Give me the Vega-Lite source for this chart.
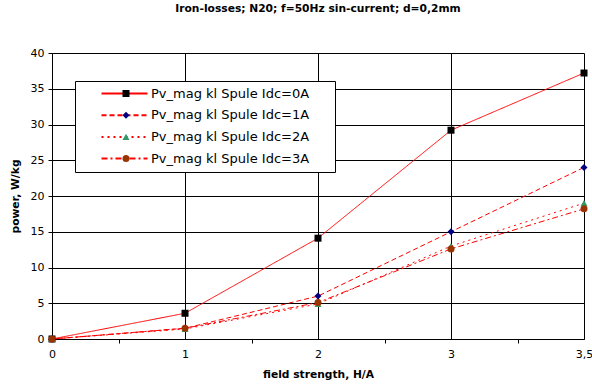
{
  "$schema": "https://vega.github.io/schema/vega-lite/v6.json",
  "width": 532,
  "height": 286,
  "autosize": {"type": "none"},
  "padding": {"left": 52, "top": 53, "right": 8, "bottom": 46},
  "background": "white",
  "title": {
    "text": "Iron-losses; N20; f=50Hz sin-current; d=0,2mm",
    "anchor": "middle",
    "frame": "group",
    "font": "DejaVu Sans",
    "fontSize": 10.7,
    "fontWeight": "bold",
    "color": "black",
    "offset": 32
  },
  "data": {
    "values": [
      {"x": "0", "y": 0, "series": "Pv_mag kl Spule Idc=0A", "marker": "Pv_mag kl Spule Idc=0A"},
      {"x": "1", "y": 3.6, "series": "Pv_mag kl Spule Idc=0A", "marker": "Pv_mag kl Spule Idc=0A"},
      {"x": "2", "y": 14.1, "series": "Pv_mag kl Spule Idc=0A", "marker": "Pv_mag kl Spule Idc=0A"},
      {"x": "3", "y": 29.2, "series": "Pv_mag kl Spule Idc=0A", "marker": "Pv_mag kl Spule Idc=0A"},
      {"x": "3,5", "y": 37.2, "series": "Pv_mag kl Spule Idc=0A", "marker": "Pv_mag kl Spule Idc=0A"},
      {"x": "0", "y": 0, "series": "Pv_mag kl Spule Idc=1A", "marker": "Pv_mag kl Spule Idc=1A"},
      {"x": "1", "y": 1.5, "series": "Pv_mag kl Spule Idc=1A", "marker": "Pv_mag kl Spule Idc=1A"},
      {"x": "2", "y": 6.0, "series": "Pv_mag kl Spule Idc=1A", "marker": "Pv_mag kl Spule Idc=1A"},
      {"x": "3", "y": 15.0, "series": "Pv_mag kl Spule Idc=1A", "marker": "Pv_mag kl Spule Idc=1A"},
      {"x": "3,5", "y": 24.0, "series": "Pv_mag kl Spule Idc=1A", "marker": "Pv_mag kl Spule Idc=1A"},
      {"x": "0", "y": 0, "series": "Pv_mag kl Spule Idc=2A", "marker": "Pv_mag kl Spule Idc=2A"},
      {"x": "1", "y": 1.4, "series": "Pv_mag kl Spule Idc=2A", "marker": "Pv_mag kl Spule Idc=2A"},
      {"x": "2", "y": 4.9, "series": "Pv_mag kl Spule Idc=2A", "marker": "Pv_mag kl Spule Idc=2A"},
      {"x": "3", "y": 13.0, "series": "Pv_mag kl Spule Idc=2A", "marker": "Pv_mag kl Spule Idc=2A"},
      {"x": "3,5", "y": 19.0, "series": "Pv_mag kl Spule Idc=2A", "marker": "Pv_mag kl Spule Idc=2A"},
      {"x": "0", "y": 0, "series": "Pv_mag kl Spule Idc=3A", "marker": "Pv_mag kl Spule Idc=3A"},
      {"x": "1", "y": 1.5, "series": "Pv_mag kl Spule Idc=3A", "marker": "Pv_mag kl Spule Idc=3A"},
      {"x": "2", "y": 5.1, "series": "Pv_mag kl Spule Idc=3A", "marker": "Pv_mag kl Spule Idc=3A"},
      {"x": "3", "y": 12.6, "series": "Pv_mag kl Spule Idc=3A", "marker": "Pv_mag kl Spule Idc=3A"},
      {"x": "3,5", "y": 18.2, "series": "Pv_mag kl Spule Idc=3A", "marker": "Pv_mag kl Spule Idc=3A"}
    ]
  },
  "config": {
    "view": {"stroke": null},
    "font": "DejaVu Sans",
    "axis": {
      "labelFont": "DejaVu Sans",
      "titleFont": "DejaVu Sans",
      "labelColor": "black",
      "titleColor": "black",
      "gridColor": "black",
      "gridOpacity": 1,
      "domainColor": "black",
      "tickColor": "black",
      "labelFontSize": 11,
      "titleFontSize": 10.7,
      "titleFontWeight": "bold"
    }
  },
  "resolve": {"axis": {"x": "independent"}},
  "layer": [
    {
      "mark": {"type": "line", "color": "#ff0000", "strokeWidth": 1},
      "encoding": {
        "x": {
          "field": "x",
          "type": "ordinal",
          "sort": null,
          "scale": {"type": "point", "padding": 0},
          "axis": {
            "orient": "bottom",
            "title": "field strength, H/A",
            "titlePadding": 10,
            "labelAngle": 0,
            "ticks": false,
            "tickSize": 0,
            "labelPadding": 9,
            "grid": true
          }
        },
        "y": {
          "field": "y",
          "type": "quantitative",
          "scale": {"domain": [0, 40], "nice": false},
          "axis": {
            "title": "power, W/kg",
            "values": [0, 5, 10, 15, 20, 25, 30, 35, 40],
            "grid": true,
            "tickSize": 4,
            "labelPadding": 4,
            "titlePadding": 10
          }
        },
        "strokeDash": {
          "field": "series",
          "type": "nominal",
          "scale": {
            "range": [[1, 0], [5, 3], [2, 4], [6, 3, 2, 3]]
          },
          "legend": {
            "title": null,
            "orient": "none",
            "legendX": 23,
            "legendY": 28,
            "padding": 6,
            "symbolOffset": 37,
            "symbolType": "M-4.6,0H4.6",
            "symbolSize": 100,
            "symbolStrokeColor": "#ff0000",
            "symbolStrokeWidth": 2,
            "symbolFillColor": "transparent",
            "labelOffset": 20,
            "labelExpr": "datum.label + '\u2800\u2800'",
            "labelFont": "DejaVu Sans",
            "labelFontSize": 13,
            "labelColor": "black",
            "labelLimit": 400,
            "rowPadding": 7.7,
            "strokeColor": "black",
            "fillColor": "white",
            "zindex": 0
          }
        }
      }
    },
    {
      "mark": {"type": "point", "filled": true, "size": 49, "opacity": 1},
      "encoding": {
        "x": {
          "field": "x",
          "type": "ordinal",
          "sort": null,
          "axis": {
            "orient": "bottom",
            "title": null,
            "labels": false,
            "grid": false,
            "domain": false,
            "ticks": true,
            "tickOffset": 66.5,
            "tickSize": 4
          }
        },
        "y": {
          "field": "y",
          "type": "quantitative",
          "axis": {
            "title": "power, W/kg",
            "values": [0, 5, 10, 15, 20, 25, 30, 35, 40],
            "grid": true,
            "tickSize": 4,
            "labelPadding": 4,
            "titlePadding": 10
          }
        },
        "shape": {
          "field": "marker",
          "type": "nominal",
          "scale": {
            "domain": ["Pv_mag kl Spule Idc=0A", "Pv_mag kl Spule Idc=1A", "Pv_mag kl Spule Idc=2A", "Pv_mag kl Spule Idc=3A"],
            "range": ["square", "diamond", "triangle-up", "circle"]
          },
          "legend": {
            "title": null,
            "orient": "none",
            "legendX": 23,
            "legendY": 28,
            "padding": 6,
            "symbolOffset": 38.5,
            "symbolSize": 49,
            "symbolStrokeWidth": 0,
            "labelExpr": "''",
            "labelFontSize": 13,
            "labelLimit": 400,
            "rowPadding": 7.7,
            "zindex": 1
          }
        },
        "color": {
          "field": "marker",
          "type": "nominal",
          "scale": {
            "domain": ["Pv_mag kl Spule Idc=0A", "Pv_mag kl Spule Idc=1A", "Pv_mag kl Spule Idc=2A", "Pv_mag kl Spule Idc=3A"],
            "range": ["#000000", "#000080", "#339966", "#993300"]
          },
          "legend": {
            "title": null,
            "orient": "none",
            "legendX": 23,
            "legendY": 28,
            "padding": 6,
            "symbolOffset": 38.5,
            "symbolSize": 49,
            "symbolStrokeWidth": 0,
            "labelExpr": "''",
            "labelFontSize": 13,
            "labelLimit": 400,
            "rowPadding": 7.7,
            "zindex": 1
          }
        }
      }
    }
  ]
}
